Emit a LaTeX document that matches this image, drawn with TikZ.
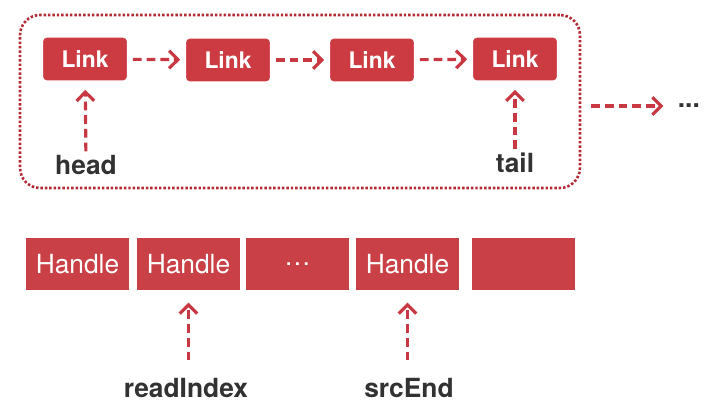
\documentclass[tikz,border=0pt]{standalone}
\usepackage{fontspec}
\setmainfont{TeX Gyre Heros}
\usetikzlibrary{arrows.meta}
\usetikzlibrary{shadows}
\usetikzlibrary{calc}
\definecolor{linkred}{RGB}{204,58,66}
\definecolor{handlered}{RGB}{201,64,70}
\definecolor{arrowred}{RGB}{200,56,66}
\definecolor{dotred}{RGB}{180,42,52}
\definecolor{labelgray}{RGB}{50,50,50}

\begin{document}
\begin{tikzpicture}[x=0.02cm,y=-0.02cm]
\tikzstyle{link} = [rectangle, rounded corners=3pt, fill=linkred, draw=white, line width=2.4pt, minimum width=1.76cm, minimum height=0.94cm, text=white, font=\fontsize{13}{15}\selectfont\bfseries, drop shadow={opacity=0.35, shadow xshift=0.7pt, shadow yshift=-1pt}]
\tikzstyle{handle} = [rectangle, fill=handlered, minimum width=2.08cm, minimum height=1.04cm, text=white, font=\fontsize{15}{17}\selectfont]
\tikzstyle{label} = [text=labelgray, font=\fontsize{15}{17}\selectfont\bfseries, inner sep=2pt]
\tikzstyle{pointer} = [draw=arrowred, line width=1.8pt, dash pattern=on 5pt off 2.8pt, -{Straight Barb[length=5pt,width=10pt,line width=1.8pt]}]
\tikzstyle{group} = [rectangle, draw=dotred, line width=1.5pt, dash pattern=on 1.4pt off 1.1pt, rounded corners=0.4cm, minimum width=11.2cm, minimum height=3.46cm]

\useasboundingbox (0,0) rectangle (710,408);

\node[group] (list) at (300,101.5) {};

\node[link] (l1) at (85,59) {Link};
\node[link] (l2) at (228,60) {Link};
\node[link] (l3) at (372,60) {Link};
\node[link] (l4) at (515,59) {Link};

\node[label] (head) at (86,165) {head};
\node[label] (tail) at (515,163) {tail};
\node[label, anchor=west] (more) at (674,106) {...};

\draw[pointer, shorten <=1pt, shorten >=1pt] (l1) to (l2);
\draw[pointer, shorten <=1pt, shorten >=1pt] (l2) to (l3);
\draw[pointer, shorten <=1pt, shorten >=1pt] (l3) to (l4);
\draw[pointer, shorten >=3pt] (head) to (l1);
\draw[pointer, shorten >=3pt] (tail) to (l4);
\draw[pointer, shorten >=6pt] ($(list.east |- more.west)+(10,0)$) to (more.west);

\node[handle] (h1) at (77.5,264) {Handle};
\node[handle] (h2) at (188.5,264) {Handle};
\node[handle] (h3) at (297.5,264) {\ldots};
\node[handle] (h4) at (407.5,264) {Handle};
\node[handle] (h5) at (523.5,264) {};

\node[label] (read) at (186,388) {readIndex};
\node[label] (src) at (409,388) {srcEnd};

\draw[pointer, shorten <=8pt, shorten >=7pt] (read.north -| h2) to (h2.south);
\draw[pointer, shorten <=8pt, shorten >=7pt] (src.north -| h4) to (h4.south);
\end{tikzpicture}
\end{document}
